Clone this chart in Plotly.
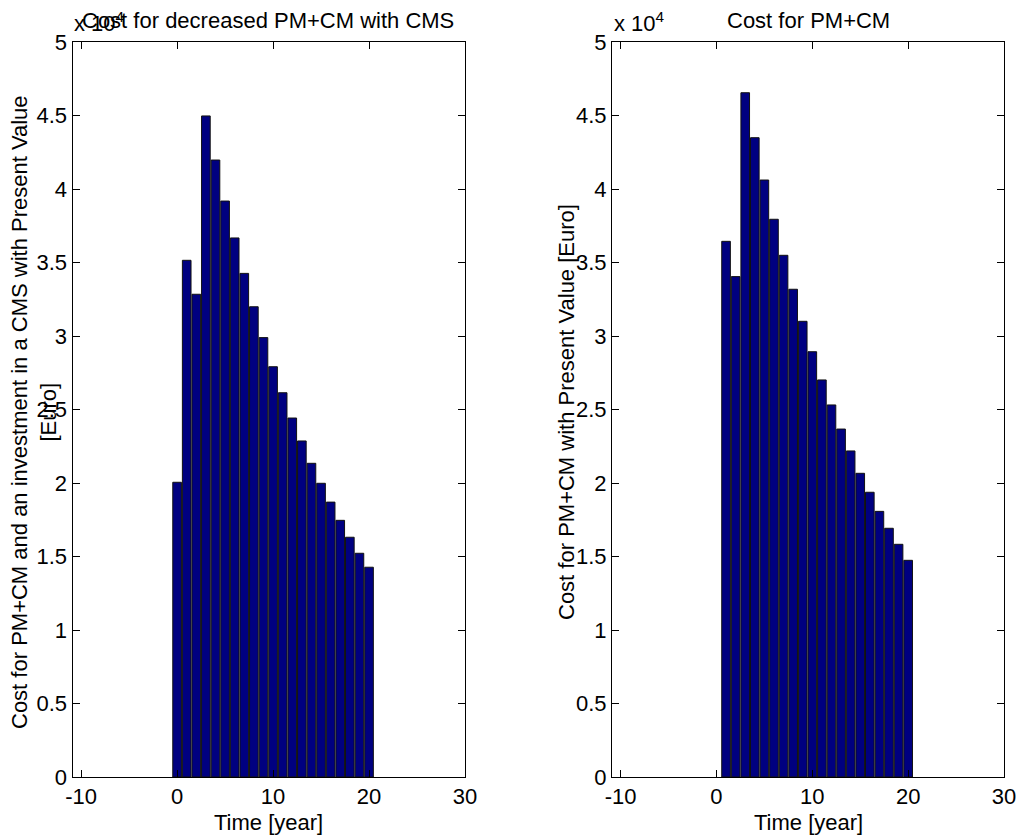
import plotly.graph_objects as go

# Yearly costs (Euro), present value
years_cms = list(range(0, 21))
cost_cms = [20050, 35150, 32840, 44970, 41970, 39180, 36670, 34260, 31990, 29890,
            27910, 26140, 24420, 22860, 21340, 19980, 18700, 17460, 16310, 15220, 14270]

years_base = list(range(1, 21))
cost_base = [36440, 34040, 46550, 43490, 40610, 37940, 35490, 33180, 31000, 28930,
             27010, 25310, 23670, 22180, 20660, 19370, 18070, 16920, 15830, 14740]

y_ticks = [0, 5000, 10000, 15000, 20000, 25000, 30000, 35000, 40000, 45000, 50000]
y_ticktext = ["0", "0.5", "1", "1.5", "2", "2.5", "3", "3.5", "4", "4.5", "5"]
x_ticks = [-10, 0, 10, 20, 30]
x_ticktext = ["-10", "0", "10", "20", "30"]

W, H = 1018, 836
FONT = "Liberation Sans, Arial, sans-serif"
FS = 22
BAR = "#000080"


def px_x(p):
    return p / W


def px_y(p):
    return 1 - p / H


fig = go.Figure()
fig.add_trace(go.Bar(x=years_cms, y=cost_cms, width=0.9, xaxis="x", yaxis="y",
                     marker=dict(color=BAR, line=dict(color="#111111", width=1))))
fig.add_trace(go.Bar(x=years_base, y=cost_base, width=0.9, xaxis="x2", yaxis="y2",
                     marker=dict(color=BAR, line=dict(color="#111111", width=1))))

axis_common = dict(showgrid=False, zeroline=False, showline=True, linecolor="black",
                   linewidth=1, mirror="allticks", ticks="inside", ticklen=7,
                   tickcolor="black", tickwidth=1, layer="above traces",
                   automargin=False,
                   tickfont=dict(family=FONT, size=FS, color="black"))

y_dom = [px_y(777), px_y(42)]
fig.update_layout(
    template="none",
    width=W, height=H, margin=dict(l=0, r=0, t=0, b=0, pad=0, autoexpand=False),
    paper_bgcolor="white", plot_bgcolor="white", showlegend=False,
    font=dict(family=FONT, size=FS, color="black"),
    xaxis=dict(domain=[px_x(72.5), px_x(465)], range=[-10.9, 30], tickvals=x_ticks,
               ticktext=x_ticktext, anchor="y", ticklabelstandoff=0, **axis_common),
    yaxis=dict(domain=y_dom, range=[0, 50000], tickvals=y_ticks, ticktext=y_ticktext,
               anchor="x", ticklabelstandoff=0, **axis_common),
    xaxis2=dict(domain=[px_x(612), px_x(1004)], range=[-10.9, 30], tickvals=x_ticks,
                ticktext=x_ticktext, anchor="y2", ticklabelstandoff=0, **axis_common),
    yaxis2=dict(domain=y_dom, range=[0, 50000], tickvals=y_ticks, ticktext=y_ticktext,
                anchor="x2", ticklabelstandoff=0, **axis_common),
)

annotations = [
    # panel titles
    dict(x=px_x(268), y=px_y(20), text="Cost for decreased PM+CM with CMS"),
    dict(x=px_x(808), y=px_y(20), text="Cost for PM+CM"),
    # axis titles
    dict(x=px_x(268), y=px_y(822), text="Time [year]"),
    dict(x=px_x(808), y=px_y(822), text="Time [year]"),
    dict(x=px_x(34), y=px_y(412), textangle=-90,
         text="Cost for PM+CM and an investment in a CMS with Present Value<br>[Euro]"),
    dict(x=px_x(566), y=px_y(412), textangle=-90,
         text="Cost for PM+CM with Present Value [Euro]"),
    # exponent markers
    dict(x=px_x(72), y=px_y(22), xanchor="left", text="x 10<sup>4</sup>"),
    dict(x=px_x(612), y=px_y(22), xanchor="left", text="x 10<sup>4</sup>"),
]
for a in annotations:
    a.setdefault("xanchor", "center")
    a.setdefault("yanchor", "middle")
    a.update(xref="paper", yref="paper", showarrow=False,
             font=dict(family=FONT, size=FS, color="black"))
fig.update_layout(annotations=annotations)

fig.write_html("out.html")
